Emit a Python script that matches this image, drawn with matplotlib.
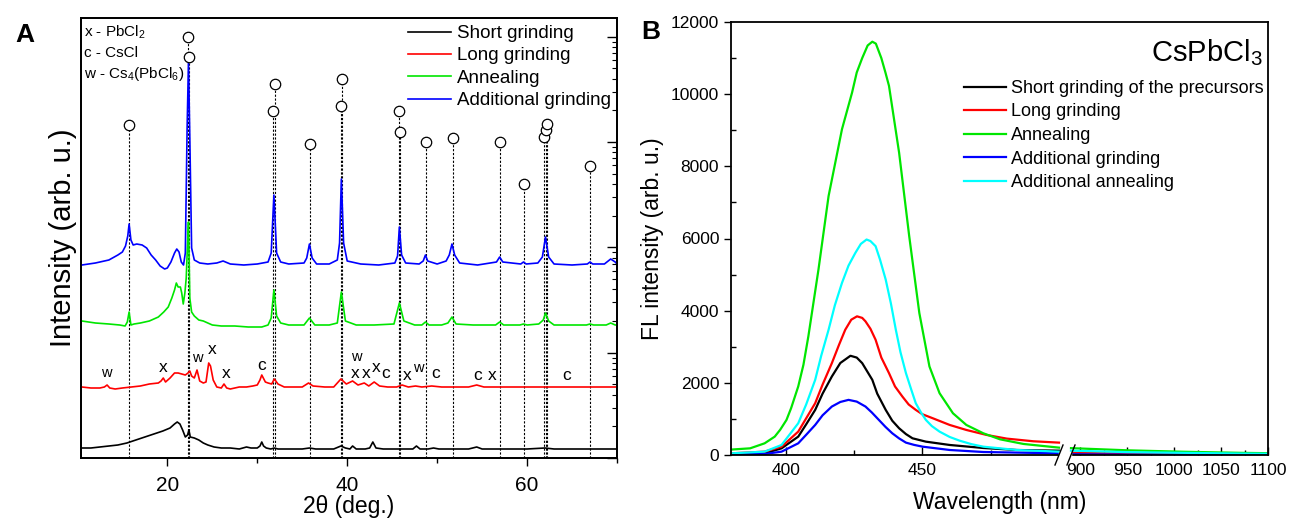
import numpy as np
import matplotlib
matplotlib.use("Agg")
import matplotlib.pyplot as plt
from matplotlib.ticker import FixedLocator, MultipleLocator, LogLocator, NullFormatter
from matplotlib.patches import Rectangle

plt.rcParams['font.family'] = ['Liberation Sans', 'DejaVu Sans']
plt.rcParams['mathtext.fontset'] = 'custom'
plt.rcParams['mathtext.rm'] = 'Liberation Sans'
plt.rcParams['mathtext.it'] = 'Liberation Sans:italic'

# ---------------- Panel A: XRD patterns (stacked, arb. units) ----------------
tt_black = [10.5, 11.5, 12.5, 13.5, 14.5, 15.5, 16.5, 17.5, 18.5, 19.5, 20.3, 20.8, 21.1, 21.4, 21.7,
            22.0, 22.25, 22.4, 22.55, 23.0, 23.5, 24.0, 24.5, 25.2, 26.0, 27.0, 28.0, 28.8, 29.3, 30.0,
            30.3, 30.5, 30.7, 31.0, 31.5, 31.9, 32.3, 33.0, 34.0, 35.0, 35.8, 36.5, 37.5, 38.5, 39.3,
            39.8, 40.3, 40.6, 41.0, 42.0, 42.5, 42.85, 43.2, 44.0, 45.0, 45.8, 46.5, 47.3, 47.7, 48.1,
            49.0, 49.6, 50.2, 51.0, 52.0, 53.5, 54.4, 55.0, 56.5, 58.0, 60.0, 62.0, 63.0, 65.0, 67.0,
            69.0, 70.0]
i_black = [10, 10, 11, 12, 13, 15, 18, 21, 24, 27, 30, 34, 36, 34, 28,
           21, 23, 28, 21, 20, 18, 15, 13, 11, 10, 10, 9, 11, 10, 10,
           12, 16, 12, 10, 9, 10, 9, 9, 9, 9, 10, 9, 9, 9, 12,
           10, 9, 12, 9, 9, 10, 16, 10, 9, 9, 9, 9, 9, 12, 9,
           9, 10, 9, 9, 9, 9, 11, 9, 9, 9, 9, 10, 9, 9, 9,
           9, 9]

tt_red = [10.5, 11.5, 12.5, 13.0, 13.3, 13.6, 14.2, 15.0, 16.0, 17.0, 18.0, 19.0, 19.3, 19.55, 19.8,
          20.3, 20.8, 21.2, 21.6, 22.0, 22.3, 22.5, 22.7, 23.0, 23.3, 23.6, 24.0, 24.3, 24.6, 24.8,
          25.1, 25.5, 26.0, 26.3, 26.6, 27.0, 28.0, 28.8, 29.5, 30.0, 30.3, 30.5, 30.9, 31.2, 31.6,
          31.9, 32.3, 33.0, 34.0, 35.0, 35.7, 36.2, 37.5, 38.5, 39.3, 39.9, 40.6, 41.2, 41.9, 42.4,
          43.0, 43.6, 44.5, 45.5, 46.1, 46.8, 47.6, 48.3, 49.4, 50.5, 52.0, 53.5, 54.4, 55.2, 56.5,
          58.0, 60.0, 62.0, 64.0, 66.0, 68.0, 70.0]
i_red = [71, 70, 70, 71, 73, 70, 69, 70, 71, 72, 74, 75, 77, 80, 76,
         80, 85, 85, 84, 83, 85, 87, 82, 80, 88, 77, 75, 76, 95, 92,
         78, 71, 70, 74, 70, 69, 71, 71, 72, 73, 78, 83, 76, 75, 74,
         79, 74, 71, 71, 71, 75, 72, 71, 71, 79, 74, 77, 73, 75, 72,
         76, 72, 71, 71, 73, 71, 72, 71, 72, 71, 71, 71, 73, 71, 71,
         71, 71, 71, 71, 71, 71, 71]

tt_green = [10.5, 12.0, 13.5, 14.7, 15.3, 15.55, 15.75, 15.95, 16.3, 17.0, 18.0, 19.0, 19.6, 20.1, 20.5,
            20.8, 21.0, 21.2, 21.45, 21.6, 21.77, 21.95, 22.1, 22.25, 22.35, 22.5, 22.7, 23.0, 23.5, 24.0,
            25.0, 26.0, 27.5, 29.0, 30.5, 31.2, 31.55, 31.85, 32.15, 32.6, 33.5, 35.2, 35.8, 36.4, 38.0,
            38.9, 39.35, 39.8, 41.0, 43.0, 45.2, 45.8, 46.3, 47.5, 48.3, 48.7, 49.1, 50.5, 51.2, 51.65,
            52.1, 54.0, 56.5, 56.95, 57.4, 59.2, 59.6, 60.0, 61.3, 61.8, 62.05, 62.4, 63.0, 65.0, 66.6,
            67.0, 67.4, 68.8, 69.3, 69.8, 70.0]
i_green = [137, 135, 134, 133, 132, 136, 146, 133, 134, 135, 137, 141, 146, 151, 160,
           168, 175, 171, 171, 165, 154, 165, 180, 215, 236, 160, 146, 142, 138, 137,
           133, 132, 132, 131, 131, 133, 140, 168, 142, 135, 133, 133, 140, 133, 133,
           135, 166, 137, 133, 133, 134, 155, 137, 133, 133, 136, 133, 133, 135, 141,
           134, 133, 133, 136, 133, 133, 134, 133, 134, 138, 145, 137, 133, 133, 133,
           134, 133, 133, 135, 133, 133]

tt_blue = [10.5, 12.0, 13.5, 14.5, 15.0, 15.35, 15.6, 15.75, 15.95, 16.2, 16.6, 17.2, 17.7, 18.2, 18.7,
           19.2, 19.7, 20.0, 20.4, 20.8, 21.05, 21.3, 21.55, 21.8, 22.0, 22.2, 22.35, 22.5, 22.7, 23.0,
           23.6, 24.5, 25.5, 26.2, 27.0, 28.5, 30.0, 31.2, 31.55, 31.85, 32.15, 32.6, 33.5, 35.2, 35.5,
           35.8, 36.1, 36.6, 38.0, 38.9, 39.15, 39.35, 39.6, 40.0, 41.5, 43.5, 45.3, 45.6, 45.8, 46.05,
           46.5, 48.0, 48.45, 48.7, 48.95, 50.0, 51.0, 51.35, 51.65, 51.95, 52.5, 54.5, 56.6, 56.95, 57.3,
           59.3, 59.6, 59.9, 61.2, 61.7, 62.05, 62.4, 63.0, 65.0, 66.7, 67.0, 67.3, 68.6, 69.3, 69.8,
           70.0]
i_blue = [193, 195, 198, 203, 206, 212, 222, 234, 218, 213, 214, 213, 210, 203, 198,
          192, 189, 190, 196, 205, 209, 206, 196, 193, 205, 330, 396, 320, 210, 198,
          195, 194, 195, 197, 194, 193, 194, 196, 205, 263, 205, 196, 194, 195, 200,
          214, 200, 194, 194, 198, 215, 279, 215, 197, 194, 193, 195, 202, 231, 203,
          195, 194, 197, 203, 197, 194, 197, 203, 214, 203, 195, 193, 196, 201, 196,
          194, 196, 194, 195, 201, 221, 201, 194, 193, 194, 196, 194, 194, 199, 196,
          194]

xrd_labels = ['Short grinding', 'Long grinding', 'Annealing', 'Additional grinding']
xrd_colors = ['#000000', '#ff0000', '#00e600', '#0000ff']

# reference CsPbCl3 reflections: position and height of the marker
ref_pos = [15.73, 22.32, 22.4, 31.73, 31.96, 35.84, 39.29, 39.4, 45.73, 45.84, 48.73, 51.73,
           56.96, 59.62, 61.84, 62.07, 62.18, 66.96]
ref_top = [333, 421, 401, 347, 374, 314, 352, 379, 347, 326, 316, 320,
           316, 274, 321, 328, 334, 292]

# phase labels on the "Long grinding" pattern
ph_text = ['w', 'x', 'w', 'x', 'x', 'c', 'w', 'x', 'x', 'x', 'c', 'x', 'w', 'c', 'c', 'x', 'c']
ph_x = [13.26, 19.5, 23.37, 24.96, 26.5, 30.48, 41.03, 40.84, 42.07, 43.26, 44.29, 46.7, 47.96,
        49.81, 54.48, 56.14, 64.36]
ph_y = [85, 91, 100, 108, 85, 92, 101, 85, 85, 90, 84, 82, 90, 84, 83, 83, 83]

# ---------------- Panel B: photoluminescence ----------------
wl_black = [380, 392.3, 398.5, 404.6, 407.5, 410.8, 413.5, 416.9, 420, 423.7, 426, 428, 431.7, 433.5,
            436.6, 439, 441.5, 444, 446.4, 451.3, 460, 472.3, 484.5, 500]
fl_black = [19, 46, 185, 509, 850, 1250, 1700, 2176, 2550, 2750, 2700, 2546, 2083, 1700,
            1250, 950, 741, 580, 463, 370, 278, 194, 139, 120]

wl_red = [380, 392.3, 398.5, 404.6, 410.8, 413.5, 416.9, 419.5, 421.8, 424, 426.1, 428, 429.2, 431,
          432.9, 435, 437.8, 440, 442.7, 445, 447.6, 450, 453.8, 460, 466.1, 473.5, 480.9, 490.7, 500]
fl_red = [46, 93, 231, 648, 1435, 1950, 2546, 3050, 3472, 3750, 3843, 3800, 3704, 3500,
          3194, 2700, 2269, 1900, 1620, 1400, 1250, 1130, 1019, 833, 694, 556, 454, 380, 343]

wl_green = [380, 387, 392.3, 396, 398, 400.3, 402, 404.6, 406.5, 408.3, 412, 415.7, 420.6, 424.3,
            426, 428, 430, 431.7, 433, 435, 436.5, 437.8, 441.5, 445.2, 448.9, 452.6, 456.3, 461.2,
            466.1, 472.3, 478.4, 487, 500]
fl_green = [150, 185, 324, 509, 700, 972, 1300, 1900, 2500, 3287, 5139, 7176, 9028, 10046,
            10600, 11000, 11350, 11454, 11400, 11000, 10600, 10231, 8380, 6065, 3935, 2454, 1713, 1157,
            833, 602, 435, 306, 204]

wl_blue = [380, 392.3, 398.5, 404.6, 407.5, 410.8, 413.5, 416.9, 420, 423, 426, 429.2, 431.5, 434.1,
           436.5, 439, 441.5, 444, 447, 450.1, 460, 472.3, 500]
fl_blue = [10, 28, 93, 324, 560, 833, 1100, 1343, 1470, 1528, 1480, 1343, 1180, 972,
           780, 602, 460, 343, 280, 231, 139, 83, 46]

wl_cyan = [380, 392.3, 398.5, 404.6, 407.5, 410.8, 413, 415.7, 418, 420.6, 423, 425.5, 427.5, 429.6,
           431, 432.9, 434.5, 436.6, 438.5, 440.3, 442, 444, 446, 447.6, 449.5, 451.3, 453.5, 456.3,
           460, 463.6, 468, 472.3, 484.5, 500]
fl_cyan = [46, 93, 278, 880, 1400, 2083, 2750, 3472, 4150, 4769, 5250, 5602, 5850, 5972,
           5930, 5787, 5420, 4861, 4200, 3472, 2850, 2269, 1800, 1435, 1180, 972, 800, 648,
           500, 398, 300, 231, 139, 93]

# near-infrared part (after the axis break)
wl_nir = [890, 920, 950, 980, 1010, 1040, 1070, 1100]
nir_black = [40, 30, 25, 20, 20, 15, 15, 15]
nir_red = [60, 50, 40, 35, 30, 25, 20, 20]
nir_green = [190, 160, 130, 110, 90, 75, 60, 50]
nir_blue = [20, 15, 10, 10, 10, 5, 5, 5]
nir_cyan = [120, 100, 80, 70, 60, 50, 40, 35]

pl_labels = ['Short grinding of the precursors', 'Long grinding', 'Annealing',
             'Additional grinding', 'Additional annealing']
pl_colors = ['#000000', '#ff0000', '#00e600', '#0000ff', '#00ffff']

# ================= figure =================
fig = plt.figure(figsize=(12.9, 5.22), dpi=100)
W, H = 1290, 522

axA = fig.add_axes([81 / W, (H - 458) / H, (617 - 81) / W, 440 / H])

# log-scaled intensity ticks on the right spine (twin made first, it resets the left ticks)
axA2 = axA.twinx()
axA2.set_yscale('log')
axA2.set_ylim(1, 10 ** (440 / 105.3))
axA2.yaxis.set_major_locator(LogLocator(base=10, numticks=10))
axA2.yaxis.set_minor_locator(LogLocator(base=10, subs=np.arange(2, 10), numticks=50))
axA2.yaxis.set_major_formatter(NullFormatter())
axA2.yaxis.set_minor_formatter(NullFormatter())
axA2.tick_params(axis='y', which='major', direction='in', length=7, width=1, left=False, right=True)
axA2.tick_params(axis='y', which='minor', direction='in', length=3.5, width=0.8, left=False, right=True)

series = [(tt_black, i_black), (tt_red, i_red), (tt_green, i_green), (tt_blue, i_blue)]
for (xx, yy), lab, col in zip(series, xrd_labels, xrd_colors):
    axA.plot(xx, yy, color=col, lw=1.2, label=lab, zorder=3)

axA.vlines(ref_pos, 0, ref_top, colors='k', linestyles=(0, (2, 1.5)), lw=0.8, zorder=2)
axA.plot(ref_pos, ref_top, 'o', ms=7.5, mfc='white', mec='k', mew=0.9, ls='none', zorder=4)

for t, x, y in zip(ph_text, ph_x, ph_y):
    axA.text(x, y, t, ha='center', va='center', fontsize=12.5 if t != 'w' else 10.5)

axA.text(0.006, 0.968, 'x - PbCl$_2$', transform=axA.transAxes, fontsize=11, va='center')
axA.text(0.006, 0.920, 'c - CsCl', transform=axA.transAxes, fontsize=11, va='center')
axA.text(0.006, 0.872, 'w - Cs$_4$(PbCl$_6$)', transform=axA.transAxes, fontsize=11, va='center')

axA.set_xlim(10.4, 70)
axA.set_ylim(0, 440)
axA.xaxis.set_major_locator(MultipleLocator(20))
axA.xaxis.set_minor_locator(MultipleLocator(10))
axA.tick_params(axis='x', which='major', direction='out', length=6, width=1, labelsize=15, pad=7)
axA.tick_params(axis='x', which='minor', direction='out', length=3.5, width=1)
axA.tick_params(axis='y', which='both', left=False, right=False, labelleft=False)
for ax in (axA, axA2):
    for s in ax.spines.values():
        s.set_linewidth(1.3)
axA.set_xlabel('2θ (deg.)', fontsize=16.5, labelpad=0)
axA.set_ylabel('Intensity (arb. u.)', fontsize=21, labelpad=3)
axA.legend(loc='upper right', bbox_to_anchor=(1 - 6 / 536, 1 - 7 / 440), frameon=False,
           fontsize=13.5, handlelength=2.3, handletextpad=0.3, labelspacing=0.28,
           borderaxespad=0, borderpad=0)

fig.text(25 / W, 1 - 35 / H, 'A', fontsize=19, fontweight='bold', ha='center', va='center')

# ---------------- Panel B ----------------
axB = fig.add_axes([731 / W, (H - 455) / H, (1268 - 731) / W, 433 / H])

# broken wavelength axis: 380-500 nm and 890-1100 nm on one axes
brk_nm = [-1000, 380, 500, 890, 1100, 3000]
brk_px = [-1380 * 2.733, 0, 328, 340, 537, 537 + 1900 * 0.938]


def fwd(x):
    return np.interp(x, brk_nm, brk_px)


def inv(p):
    return np.interp(p, brk_px, brk_nm)


axB.set_xscale('function', functions=(fwd, inv))

vis = [(wl_black, fl_black, nir_black), (wl_red, fl_red, nir_red), (wl_green, fl_green, nir_green),
       (wl_blue, fl_blue, nir_blue), (wl_cyan, fl_cyan, nir_cyan)]
for (xx, yy, nn), lab, col in zip(vis, pl_labels, pl_colors):
    axB.plot(xx, yy, color=col, lw=1.6, label=lab)
    axB.plot(wl_nir, nn, color=col, lw=1.6)

axB.set_xlim(380, 1100)
axB.set_ylim(0, 12000)
axB.xaxis.set_major_locator(FixedLocator([400, 450, 900, 950, 1000, 1050, 1100]))
axB.xaxis.set_minor_locator(FixedLocator([425, 475, 925, 975, 1025, 1075]))
axB.xaxis.set_minor_formatter(NullFormatter())
axB.yaxis.set_major_locator(MultipleLocator(2000))
axB.yaxis.set_minor_locator(MultipleLocator(1000))
axB.tick_params(axis='x', which='major', direction='in', length=6, width=1, labelsize=12.5, pad=6)
axB.tick_params(axis='x', which='minor', direction='in', length=3.5, width=1)
axB.tick_params(axis='y', which='major', direction='out', length=5, width=1, labelsize=12.5)
axB.tick_params(axis='y', which='minor', direction='in', length=3.5, width=1)
for s in axB.spines.values():
    s.set_linewidth(1.3)
axB.set_xlabel('Wavelength (nm)', fontsize=16.5, labelpad=9)
axB.set_ylabel('FL intensity (arb. u.)', fontsize=16.5, labelpad=5)

# break symbol on the bottom spine
f0 = (fwd(500) - fwd(380)) / (fwd(1100) - fwd(380))
f1 = (fwd(890) - fwd(380)) / (fwd(1100) - fwd(380))
axB.add_patch(Rectangle((f0, -0.006), f1 - f0, 0.012, transform=axB.transAxes,
                        color='white', clip_on=False, zorder=5))
dx, dy = 4 / 537, 10 / 433
for f in (f0, f1):
    axB.plot([f - dx, f + dx], [-dy, dy], transform=axB.transAxes, color='k', lw=1,
             clip_on=False, zorder=6)

axB.text(0.99, 0.93, 'CsPbCl$_3$', transform=axB.transAxes, fontsize=21, ha='right', va='center')
axB.legend(loc='upper right', bbox_to_anchor=(1 - 4 / 537, 1 - 58 / 433), frameon=False,
           fontsize=13, handlelength=2.3, handletextpad=0.3, labelspacing=0.36,
           borderaxespad=0, borderpad=0)

fig.text(651 / W, 1 - 32 / H, 'B', fontsize=19, fontweight='bold', ha='center', va='center')

fig.savefig('out.png', dpi=100)
